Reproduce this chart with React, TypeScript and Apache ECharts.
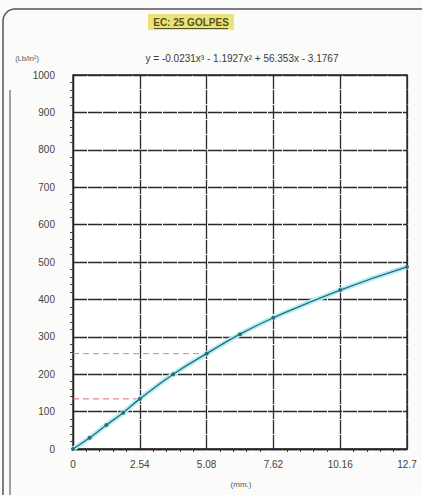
import React, { useEffect, useRef } from "react";
import * as echarts from "echarts";

const penetration = [0, 0.635, 1.27, 1.905, 2.54, 3.81, 5.08, 6.35, 7.62, 10.16, 12.7];
const pressure = [0, 30, 64, 97, 134, 200, 255, 307, 351, 425, 487];
const xTicks = [0, 2.54, 5.08, 7.62, 10.16, 12.7];
const refLines = [
  { x: 2.54, y: 134, color: "#e06a6a" },
  { x: 5.08, y: 255, color: "#cf8a8a" },
];
const titleText = "EC: 25 GOLPES";
const equationText = "y = -0.0231x³ - 1.1927x² + 56.353x - 3.1767";
const yUnit = "(Lb/in²)";
const xUnit = "(mm.)";

export default function App() {
  const ref = useRef<HTMLDivElement>(null);
  useEffect(() => {
    if (!ref.current) return;
    const chart = echarts.init(ref.current, null, { renderer: "svg" });
    const data = penetration.map((x, i) => [x, pressure[i]]);
    const font = "'Liberation Sans', Arial, sans-serif";
    chart.setOption({
      animation: false,
      backgroundColor: "#fbfbfa",
      grid: {
        left: 73,
        top: 75,
        width: 334,
        height: 374,
        show: true,
        backgroundColor: "#ffffff",
        borderColor: "#222",
        borderWidth: 1.3,
      },
      xAxis: {
        type: "value",
        min: 0,
        max: 12.7,
        interval: 2.54,
        axisLine: { show: true, lineStyle: { color: "#222", width: 1.3 } },
        axisTick: { show: false },
        minorTick: { show: true, splitNumber: 5, length: 3, lineStyle: { color: "#333" } },
        axisLabel: {
          color: "#444",
          fontSize: 10,
          fontFamily: font,
          margin: 10,
          formatter: (v: number) => {
            const m = xTicks.find((t) => Math.abs(t - v) < 1e-6);
            return m !== undefined ? String(m) : "";
          },
        },
        splitLine: { show: true, lineStyle: { color: "#2a2a2a", width: 1.3, type: [14, 1] } },
      },
      yAxis: {
        type: "value",
        min: 0,
        max: 1000,
        interval: 100,
        axisLine: { show: true, lineStyle: { color: "#222", width: 1.3 } },
        axisTick: { show: false },
        minorTick: { show: true, splitNumber: 5, length: 3, lineStyle: { color: "#444" } },
        axisLabel: {
          color: "#444",
          fontSize: 10,
          fontFamily: font,
          margin: 18,
          formatter: (v: number) => String(v),
        },
        splitLine: { show: true, lineStyle: { color: "#2a2a2a", width: 1.3, type: [14, 1] } },
      },
      series: [
        ...refLines.map((r) => ({
          type: "line",
          data: [
            [0, r.y],
            [r.x, r.y],
          ],
          symbol: "none",
          silent: true,
          z: 1,
          lineStyle: { color: r.color, width: 1, type: [6, 4] },
        })),
        {
          type: "line",
          data,
          smooth: true,
          symbol: "none",
          lineStyle: { color: "#b2eef5", width: 5 },
          silent: true,
          z: 2,
        },
        {
          type: "line",
          data,
          smooth: true,
          symbol: "circle",
          symbolSize: 4,
          itemStyle: { color: "#2d6b78" },
          lineStyle: { color: "#2d6b78", width: 1.3 },
          z: 3,
        },
      ],
      graphic: [
        {
          type: "rect",
          shape: { x: 3, y: 9, width: 440, height: 500, r: 12 },
          style: { fill: "none", stroke: "#555", lineWidth: 1.5 },
          silent: true,
        },
        {
          type: "line",
          shape: { x1: 10, y1: 90, x2: 10, y2: 495 },
          style: { stroke: "#666", lineWidth: 1.2 },
        },
        {
          type: "rect",
          shape: { x: 148, y: 14, width: 86, height: 16 },
          style: { fill: "#ebe27a" },
        },
        {
          type: "text",
          x: 191,
          y: 22,
          style: {
            text: titleText,
            fill: "#55531f",
            font: `bold 10px ${font}`,
            align: "center",
            verticalAlign: "middle",
          },
        },
        {
          type: "line",
          shape: { x1: 154, y1: 28.5, x2: 228, y2: 28.5 },
          style: { stroke: "#55531f", lineWidth: 1 },
        },
        {
          type: "text",
          x: 242,
          y: 58,
          style: {
            text: equationText,
            fill: "#3a3a3a",
            font: `10px ${font}`,
            align: "center",
            verticalAlign: "middle",
          },
        },
        {
          type: "text",
          x: 27,
          y: 58,
          style: {
            text: yUnit,
            fill: "#555555",
            font: `7.5px ${font}`,
            align: "center",
            verticalAlign: "middle",
          },
        },
        {
          type: "text",
          x: 241,
          y: 484,
          style: {
            text: xUnit,
            fill: "#555",
            font: `8px ${font}`,
            align: "center",
            verticalAlign: "middle",
          },
        },
      ],
    });
    return () => chart.dispose();
  }, []);
  return (
    <div
      ref={ref}
      style={{ position: "fixed", left: 0, top: 0, width: 422, height: 495 }}
    />
  );
}
